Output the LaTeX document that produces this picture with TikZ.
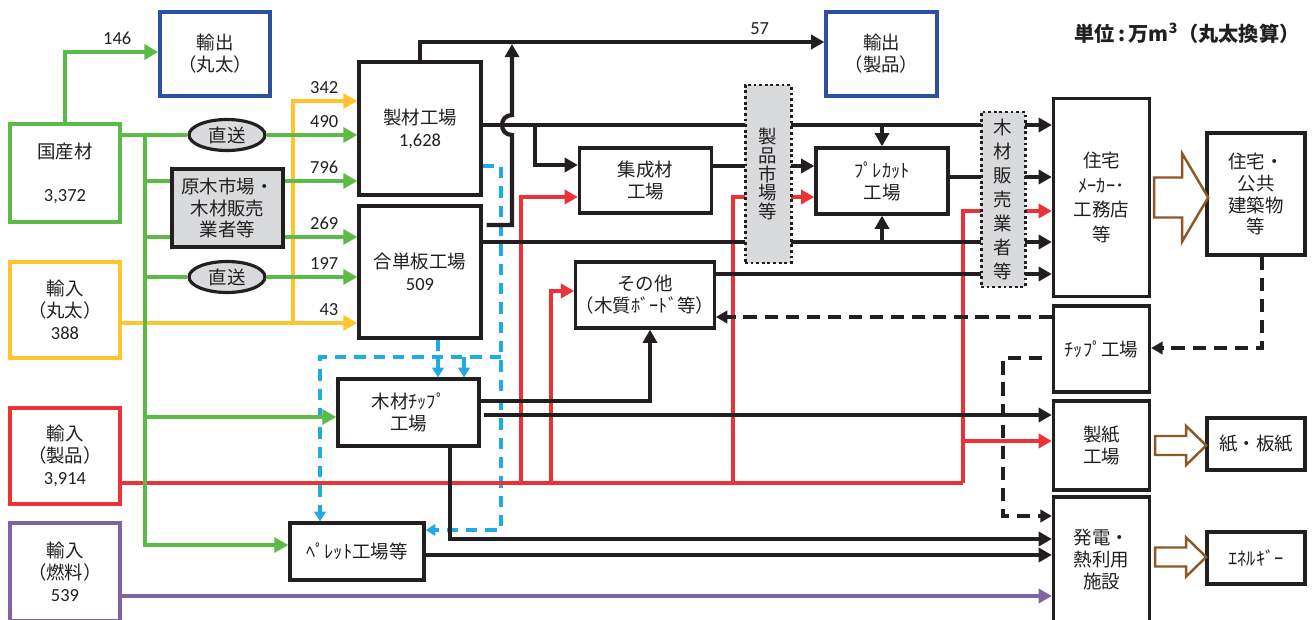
\documentclass[tikz,border=0pt]{standalone}
\usepackage{fontspec}
\setmainfont{Carlito}
\newfontfamily\jp{Noto Sans CJK JP}
\newfontfamily\numf{Carlito}
\usepackage{tikz}
\usetikzlibrary{arrows.meta,shapes.geometric}

\definecolor{ink}{RGB}{35,31,32}
\definecolor{leafgreen}{RGB}{92,186,71}
\definecolor{logyellow}{RGB}{255,197,45}
\definecolor{prodred}{RGB}{237,50,55}
\definecolor{fuelpurple}{RGB}{128,100,162}
\definecolor{exportblue}{RGB}{47,80,160}
\definecolor{chipblue}{RGB}{30,170,228}
\definecolor{panelgray}{RGB}{217,218,220}
\definecolor{arrowbrown}{RGB}{140,88,40}

\begin{document}
\begin{tikzpicture}[x=0.02cm,y=-0.02cm,>={Triangle[length=7.5pt,width=8pt]},
  flow box/.style={draw=ink,line width=1.9pt,fill=white,inner sep=0pt,align=center,
    text=ink,font=\jp\fontsize{10.5}{12.5}\selectfont},
  source box/.style={flow box,draw=#1},
  export box/.style={flow box,draw=exportblue},
  market box/.style={flow box,fill=panelgray,line width=1.7pt,dash pattern=on 1.6pt off 1.6pt},
  direct node/.style={ellipse,draw=ink,line width=1.8pt,fill=panelgray,inner sep=0pt,
    minimum width=1.52cm,minimum height=0.62cm,text=ink,font=\jp\fontsize{10.5}{12}\selectfont},
  box size/.style 2 args={minimum width=#1*0.02cm,minimum height=#2*0.02cm},
  qty/.style={anchor=south east,inner sep=0pt,xshift=-0.34cm,yshift=0.1cm,text=ink,
    font=\numf\fontsize{10.5}{12}\selectfont},
  qty top/.style={above=0.1cm,inner sep=0pt,text=ink,font=\numf\fontsize{10.5}{12}\selectfont},
  green line/.style={draw=leafgreen,line width=2.4pt,>={Triangle[length=8pt,width=8.5pt]}},
  yellow line/.style={draw=logyellow,line width=2.4pt,>={Triangle[length=8pt,width=8.5pt]}},
  red line/.style={draw=prodred,line width=2.4pt},
  purple line/.style={draw=fuelpurple,line width=2pt},
  black line/.style={draw=ink,line width=2.4pt},
  chip dash/.style={draw=chipblue,line width=2pt,dash pattern=on 6.5pt off 4.5pt,
    >={Triangle[length=5.5pt,width=6.5pt]}},
  waste dash/.style={draw=ink,line width=2pt,dash pattern=on 7.5pt off 4.5pt,
    >={Triangle[length=6.5pt,width=7pt]}},
  hollow arrow/.style={draw=arrowbrown,line width=1.4pt,fill=white,line join=miter}]
  \useasboundingbox (0,0) rectangle (1312,619);

  % sources
  \node[source box=leafgreen,box size={110}{98}]  (kokusan) at (65,173) {国産材\\[12pt]{\numf 3,372}};
  \node[source box=logyellow,box size={110}{96}]  (imlog)   at (65,310) {輸入\\（丸太）\\{\numf 388}};
  \node[source box=prodred,box size={110}{96}]    (improd)  at (65,456) {輸入\\（製品）\\{\numf 3,914}};
  \node[source box=fuelpurple,box size={110}{98}] (imfuel)  at (65,572) {輸入\\（燃料）\\{\numf 539}};
  \node[export box,box size={110}{84}] (exlog)  at (215,54)    {輸出\\（丸太）};
  \node[export box,box size={111}{84}] (exprod) at (881.5,54) {輸出\\（製品）};

  \node[direct node] (chokuso1) at (227,135) {直送};
  \node[flow box,fill=panelgray,box size={111}{78},font=\jp\fontsize{10.5}{12}\selectfont]
    (genboku) at (227.5,208) {原木市場・\\木材販売\\業者等};
  \node[direct node] (chokuso2) at (227,277) {直送};

  % mills
  \node[flow box,box size={122}{133}] (seizai)   at (420,128.5) {製材工場\\{\numf 1,628}};
  \node[flow box,box size={122}{132}] (goban)    at (420,272)   {合単板工場\\{\numf 509}};
  \node[flow box,box size={132}{65}]  (shusei)   at (645.5,180.5) {集成材\\工場};
  \node[flow box,box size={133}{66}]  (sonota)   at (645,295)   {その他\\（木質ﾎﾞｰﾄﾞ等）};
  \node[flow box,box size={132}{66}]  (precut)   at (882,181)   {ﾌﾟﾚｶｯﾄ\\工場};
  \node[flow box,box size={141}{67}]  (mokuchip) at (408.5,412.5) {木材ﾁｯﾌﾟ\\工場};
  \node[flow box,box size={134}{57}]  (pellet)   at (357,551.5) {ﾍﾟﾚｯﾄ工場等};

  % users
  \node[flow box,box size={96}{198},font=\jp\fontsize{10.5}{14}\selectfont]
    (maker) at (1101.5,197.5) {住宅\\ﾒｰｶｰ･\\工務店\\等};
  \node[flow box,box size={96}{86}]  (chipfac)  at (1101.5,349)   {ﾁｯﾌﾟ工場};
  \node[flow box,box size={96}{89}]  (seishi)   at (1101.5,445.5) {製紙\\工場};
  \node[flow box,box size={96}{125}] (hatsuden) at (1101.5,559.5) {発電・\\熱利用\\施設};
  \node[flow box,box size={98}{122}] (kokyo)    at (1256,194)     {住宅・\\公共\\建築物\\等};
  \node[flow box,box size={98}{52}]  (kami)     at (1256,444)     {紙・板紙};
  \node[flow box,box size={98}{52}]  (energy)   at (1256,558)     {ｴﾈﾙｷﾞｰ};

  \node[text=ink,font=\jp\bfseries\fontsize{11.5}{14}\selectfont] (unit) at (1187,33)
    {単位\,:\,万m\textsuperscript{3}（丸太換算）};

  \coordinate (trunk)  at (145,135);
  \coordinate (ysplit) at (293,323);
  \coordinate (hop)    at (512,125);
  \coordinate (shbr)   at (535,125);
  \coordinate (bv)     at (501,166);
  \coordinate (bh)     at (464,357);
  \coordinate (rsplit) at (963,483);
  \coordinate (r1)     at (521,483);
  \coordinate (r2)     at (551,483);
  \coordinate (r3)     at (733,483);
  \coordinate (dk)     at (1003,358);

  % chips
  \draw[chip dash,->] ([xshift=0.36cm]goban.south) -- ([xshift=0.36cm]goban.south |- mokuchip.north);
  \draw[chip dash,->] (seizai.east |- bv) -- (bv) |- (pellet.east |- 0,530);
  \draw[chip dash,->] (bv |- bh) -| ([xshift=-0.74cm]pellet.north);
  \draw[chip dash,->] (bh) -- (bh |- mokuchip.north);

  % imported products
  \draw[red line] (improd.east |- rsplit) -- (rsplit);
  \draw[red line,->] (rsplit) |- (maker.west |- 0,211);
  \draw[red line,->] (rsplit |- 0,441) -- (seishi.west |- 0,441);
  \draw[red line,->] (r1) |- (shusei.west |- 0,197);
  \draw[red line,->] (r2) |- (sonota.west |- 0,291);
  \draw[red line,->] (r3) |- (precut.west |- 0,197);

  \draw[purple line,->] (imfuel.east |- 0,596) -- (hatsuden.west |- 0,596);

  % imported logs
  \draw[yellow line,->] (imlog.east |- ysplit) -- (goban.west |- ysplit) node[qty,pos=1] {43};
  \draw[yellow line,->] (ysplit) |- (seizai.west |- 0,101) node[qty,pos=1] {342};

  % domestic logs
  \draw[green line,->] (kokusan.north) |- (exlog.west |- 0,52) node[qty top,pos=0.78] {146};
  \draw[green line] (kokusan.east |- trunk) -- (chokuso1.west);
  \draw[green line,->] (chokuso1.east) -- (seizai.west |- chokuso1) node[qty,pos=1] {490};
  \draw[green line] (trunk |- 0,181) -- (genboku.west |- 0,181);
  \draw[green line,->] (genboku.east |- 0,181) -- (seizai.west |- 0,181) node[qty,pos=1] {796};
  \draw[green line] (trunk |- 0,237) -- (genboku.west |- 0,237);
  \draw[green line,->] (genboku.east |- 0,237) -- (goban.west |- 0,237) node[qty,pos=1] {269};
  \draw[green line] (trunk |- chokuso2) -- (chokuso2.west);
  \draw[green line,->] (chokuso2.east) -- (goban.west |- chokuso2) node[qty,pos=1] {197};
  \draw[green line,->] (trunk |- 0,417) -- (mokuchip.west |- 0,417);
  \draw[green line,->] (trunk) |- (pellet.west |- 0,545);

  % products
  \draw[black line,->] (seizai.north) |- (exprod.west |- 0,42) node[qty top,pos=0.92] {57};
  \draw[black line,->] ([xshift=0.08cm]goban.east |- 0,225) -| ([yshift=-0.2cm]hop)
    .. controls ([xshift=-0.266cm,yshift=-0.2cm]hop) and ([xshift=-0.266cm,yshift=0.2cm]hop) .. ([yshift=0.2cm]hop)
    -- (hop |- 0,44);
  \draw[black line,->] (seizai.east |- hop) -- (maker.west |- hop);
  \draw[black line,->] (shbr) |- (shusei.west |- 0,165);
  \draw[black line,->] (precut.north |- hop) -- (precut.north);
  \draw[black line,->] (shusei.east |- 0,166) -- (precut.west |- 0,166);
  \draw[black line,->] (precut.east |- 0,177) -- (maker.west |- 0,177);
  \draw[black line,->] (goban.east |- 0,242) -- (maker.west |- 0,242);
  \draw[black line,->] (precut.south |- 0,242) -- (precut.south);
  \draw[black line,->] (sonota.east |- 0,274) -- (maker.west |- 0,274);
  \draw[black line,->] (mokuchip.east |- 0,401) -| ([xshift=0.1cm]sonota.south);
  \draw[black line,->] ([xshift=0.06cm]mokuchip.east |- 0,415) -- (seishi.west |- 0,415);
  \draw[black line,->] ([xshift=0.83cm]mokuchip.south) |- (hatsuden.west |- 0,539);
  \draw[black line,->] (pellet.east |- 0,555) -- (hatsuden.west |- 0,555);

  % wood waste
  \draw[waste dash,->] ([xshift=0.12cm]kokyo.south) |- (chipfac.east |- 0,348);
  \draw[waste dash,->] (chipfac.west |- 0,317) -- (sonota.east |- 0,317);
  \draw[waste dash,->] ([xshift=-0.2cm]chipfac.west |- dk) -- (dk) |- (hatsuden.west |- 0,516);

  % to end use
  \draw[hollow arrow] ([xshift=0.06cm]maker.east) ++(0,-20) -- ++(28,0) -- ++(0,-24)
    -- ++(26,44) -- ++(-26,44) -- ++(0,-24) -- ++(-28,0) -- cycle;
  \draw[hollow arrow] ([xshift=0.08cm]seishi.east) ++(0,-9.5) -- ++(31,0) -- ++(0,-10)
    -- ++(20,19.5) -- ++(-20,19.5) -- ++(0,-10) -- ++(-31,0) -- cycle;
  \draw[hollow arrow] ([xshift=0.08cm,yshift=0.05cm]hatsuden.east) ++(0,-9.5) -- ++(31,0) -- ++(0,-10)
    -- ++(20,19.5) -- ++(-20,19.5) -- ++(0,-10) -- ++(-31,0) -- cycle;

  % markets
  \node[market box,box size={46}{178},font=\jp\fontsize{10.5}{10.8}\selectfont]
    (seihin) at (768,174) {製\\品\\市\\場\\等};
  \node[market box,box size={44}{175},font=\jp\fontsize{10.5}{13.6}\selectfont]
    (hanbai) at (1003,199.5) {木\\材\\販\\売\\業\\者\\等};
\end{tikzpicture}
\end{document}
